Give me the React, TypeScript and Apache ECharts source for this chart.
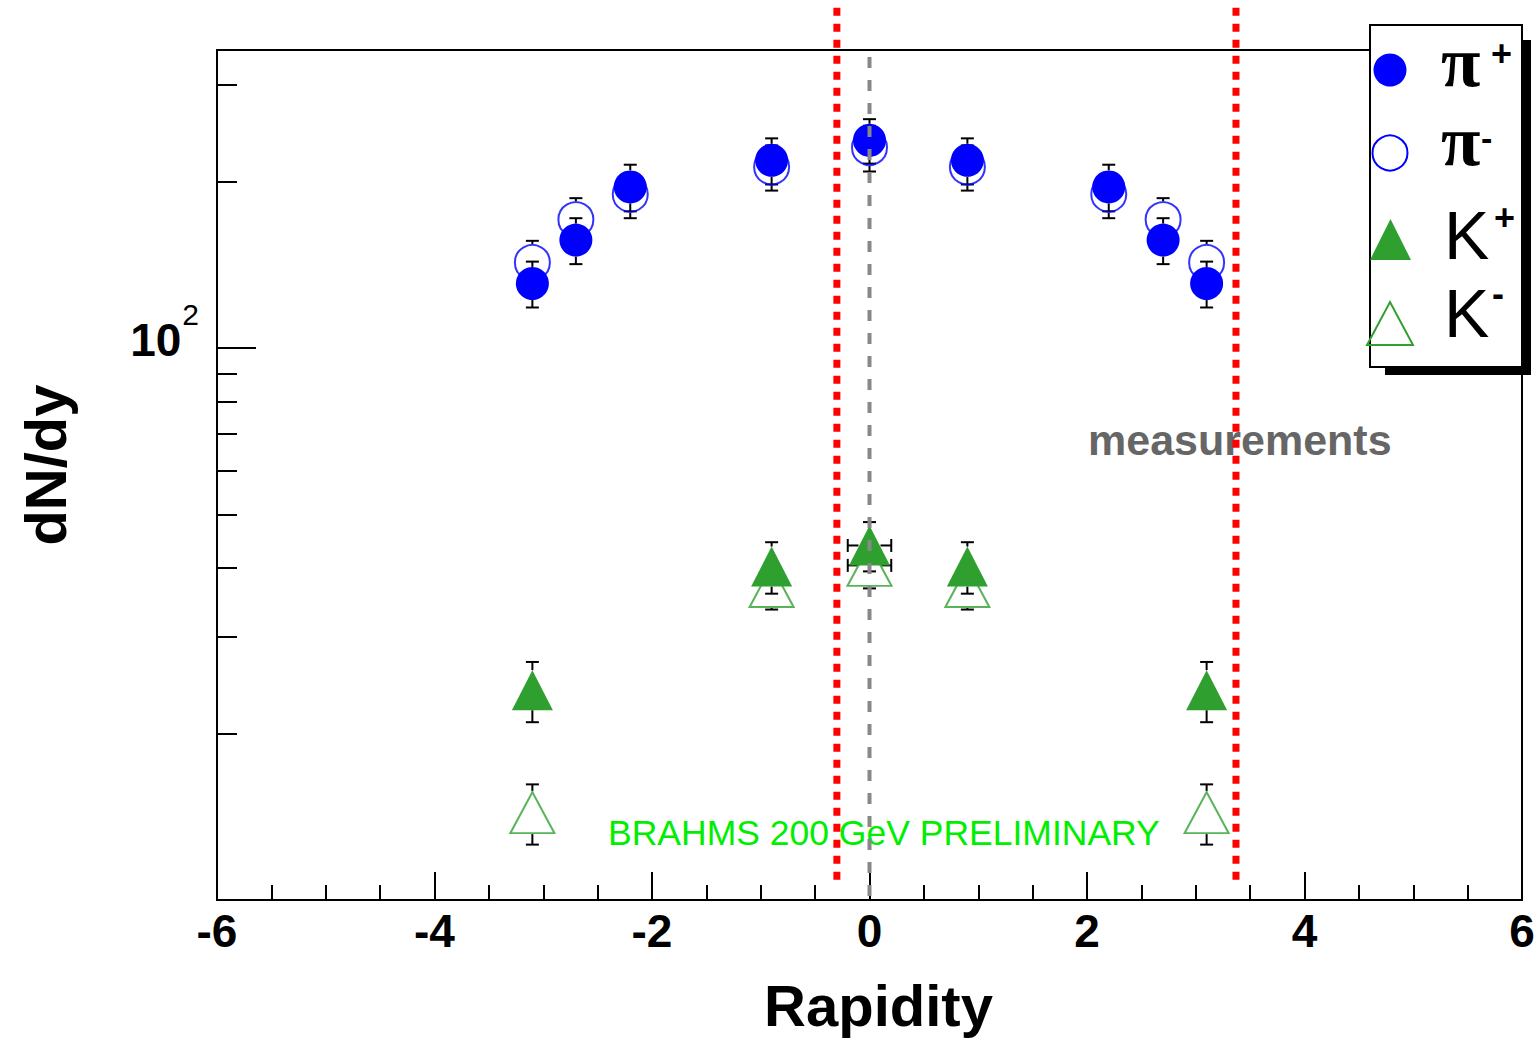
import React, { useEffect, useRef } from "react";
import * as echarts from "echarts";

// ---- data ----
const xPi = [-3.1, -2.7, -2.2, -0.9, 0, 0.9, 2.2, 2.7, 3.1];
const piPlus = [131, 157, 196, 219, 238, 219, 196, 157, 131];
const piPlusErr = [12.5, 15, 19, 21, 22, 21, 19, 15, 12.5];
const piMinus = [143, 171, 190, 213, 231, 213, 190, 171, 143];
const piMinusErr = [13.5, 16, 18, 20, 22, 20, 18, 16, 13.5];

const xK = [-3.1, -0.9, 0, 0.9, 3.1];
const kPlus = [24.0, 40.2, 43.9, 40.2, 24.0];
const kPlusErr = [3, 4.3, 4.5, 4.3, 3];
const kMinus = [14.4, 37.0, 40.4, 37.0, 14.4];
const kMinusErr = [1.8, 3.4, 3.7, 3.4, 1.8];
const kXErr = [0, 0, 0.2, 0, 0];

const yMinorTickValues = [20, 30, 40, 50, 60, 70, 80, 90, 200, 300];
const yMajorTickValues = [100];
const yLabelValues = [100];

// acceptance boundaries (red dotted) and mid-rapidity (gray dashed)
const redLinesX = [-0.3, 3.37];
const redLineRange = [10.6, 414];
const grayLineX = [0];
const grayLineRange = [10, 337];

const legendNames = ["π+", "π-", "K+", "K-"];

const BLUE = "#0000ff";
const GREEN = "#2fa02f";
const FONT = "Liberation Sans, Arial, sans-serif";

function errData(xs: number[], ys: number[], es: number[], exs?: number[]) {
  return xs.map((x, i) => [x, ys[i], es[i], exs ? exs[i] : 0]);
}

export default function App() {
  const ref = useRef<HTMLDivElement>(null);
  useEffect(() => {
    if (!ref.current) return;
    const chart = echarts.init(ref.current, undefined, { renderer: "svg" });

    const errRender = (gapY: number, gapX: number) => (params: any, api: any) => {
      const x = api.value(0);
      const y = api.value(1);
      const e = api.value(2);
      const ex = api.value(3);
      const c = api.coord([x, y]);
      const top = api.coord([x, y + e]);
      const bot = api.coord([x, y - e]);
      const st = { stroke: "#000", lineWidth: 2 };
      const cw = 6.5;
      const children: any[] = [
        { type: "line", shape: { x1: top[0] - cw, y1: top[1], x2: top[0] + cw, y2: top[1] }, style: st },
        { type: "line", shape: { x1: bot[0] - cw, y1: bot[1], x2: bot[0] + cw, y2: bot[1] }, style: st },
      ];
      if (c[1] - gapY > top[1]) {
        children.push({ type: "line", shape: { x1: c[0], y1: top[1], x2: c[0], y2: c[1] - gapY }, style: st });
      }
      if (c[1] + gapY < bot[1]) {
        children.push({ type: "line", shape: { x1: c[0], y1: c[1] + gapY, x2: c[0], y2: bot[1] }, style: st });
      }
      if (ex > 0) {
        const l = api.coord([x - ex, y]);
        const r = api.coord([x + ex, y]);
        children.push(
          { type: "line", shape: { x1: l[0], y1: l[1], x2: c[0] - gapX, y2: c[1] }, style: st },
          { type: "line", shape: { x1: c[0] + gapX, y1: c[1], x2: r[0], y2: r[1] }, style: st },
          { type: "line", shape: { x1: l[0], y1: l[1] - cw, x2: l[0], y2: l[1] + cw }, style: st },
          { type: "line", shape: { x1: r[0], y1: r[1] - cw, x2: r[0], y2: r[1] + cw }, style: st }
        );
      }
      return { type: "group", children };
    };

    const vLineRender = (color: string, width: number, dash: number[]) => (params: any, api: any) => {
      const x = api.value(0);
      const a = api.coord([x, api.value(1)]);
      const b = api.coord([x, api.value(2)]);
      return {
        type: "line",
        shape: { x1: a[0], y1: a[1], x2: b[0], y2: b[1] },
        style: { stroke: color, lineWidth: width, lineDash: dash, lineCap: "butt" },
      };
    };

    const legendGraphics: any[] = [
      { type: "rect", z: 20, shape: { x: 1385, y: 40, width: 146, height: 335 }, style: { fill: "#000" } },
      { type: "rect", z: 21, shape: { x: 1370, y: 25, width: 152, height: 342 }, style: { fill: "#fff", stroke: "#000", lineWidth: 2 } },
      { type: "circle", z: 22, shape: { cx: 1390, cy: 70, r: 16.5 }, style: { fill: BLUE } },
      { type: "circle", z: 22, shape: { cx: 1390, cy: 153, r: 17.5 }, style: { fill: "none", stroke: BLUE, lineWidth: 2 } },
      { type: "polygon", z: 22, shape: { points: [[1370, 260], [1411, 260], [1390.5, 219]] }, style: { fill: GREEN } },
      { type: "polygon", z: 22, shape: { points: [[1367, 345], [1413, 345], [1390, 302]] }, style: { fill: "none", stroke: GREEN, lineWidth: 2 } },
    ];
    const legText = (text: string, x: number, y: number, size: number, weight: string, family: string) => ({
      type: "text",
      z: 22,
      x,
      y,
      style: { text, fontSize: size, fontWeight: weight, fontFamily: family, fill: "#000", verticalAlign: "middle", align: "left" },
    });
    const serif = "Liberation Serif, DejaVu Serif, serif";
    const names = legendNames.map((n) => ({ base: n.slice(0, 1), sup: n.slice(1) }));
    legendGraphics.push(
      legText(names[0].base, 1441, 62, 72, "bold", serif),
      legText(names[0].sup, 1491, 53, 36, "bold", FONT),
      legText(names[1].base, 1441, 141, 72, "bold", serif),
      legText(names[1].sup, 1481, 138, 34, "bold", FONT),
      legText(names[2].base, 1444, 235, 68, "normal", FONT),
      legText(names[2].sup, 1494, 217, 36, "bold", FONT),
      legText(names[3].base, 1444, 313, 68, "normal", FONT),
      legText(names[3].sup, 1492, 293, 36, "bold", FONT)
    );

    const option: any = {
      animation: false,
      backgroundColor: "#fff",
      grid: { left: 217, top: 50, width: 1305, height: 850, show: true, borderColor: "#000", borderWidth: 2, backgroundColor: "transparent" },
      xAxis: {
        type: "value",
        min: -6,
        max: 6,
        interval: 2,
        axisLine: { show: true, onZero: false, lineStyle: { color: "#000", width: 2 } },
        axisTick: { show: true, inside: true, length: 28, lineStyle: { color: "#000", width: 2 } },
        minorTick: { show: true, splitNumber: 4, length: 15, lineStyle: { color: "#000", width: 2 } },
        splitLine: { show: false },
        axisLabel: { fontSize: 46, fontWeight: "bold", fontFamily: FONT, color: "#000", margin: 8 },
        name: "Rapidity",
        nameLocation: "middle",
        nameGap: 76,
        nameTextStyle: { fontSize: 58, fontWeight: "bold", fontFamily: FONT, color: "#000", padding: [0, 0, 0, 18] },
      },
      yAxis: [
        {
          type: "log",
          logBase: 10,
          min: 10,
          max: 347,
          position: "left",
          axisLine: { show: true, onZero: false, lineStyle: { color: "#000", width: 2 } },
          axisTick: { show: true, inside: true, length: 20, lineStyle: { color: "#000", width: 2 }, customValues: yMinorTickValues },
          minorTick: { show: false },
          splitLine: { show: false },
          axisLabel: {
            show: true,
            customValues: yLabelValues,
            margin: 18,
            padding: [0, 0, 17, 0],
            formatter: (v: number) => `{a|10}{b|${Math.round(Math.log10(v))}}`,
            rich: {
              a: { fontSize: 46, fontWeight: "bold", fontFamily: FONT, color: "#000", lineHeight: 46 },
              b: { fontSize: 30, fontFamily: FONT, color: "#000", lineHeight: 30, padding: [0, 0, 50, 1] },
            },
          },
          name: "dN/dy",
          nameLocation: "middle",
          nameGap: 143,
          nameTextStyle: { fontSize: 58, fontWeight: "bold", fontFamily: FONT, color: "#000", padding: [0, 0, 0, 20] },
        },
        {
          type: "log",
          logBase: 10,
          min: 10,
          max: 347,
          position: "left",
          offset: 0,
          axisLine: { show: false, onZero: false },
          axisTick: { show: true, inside: true, length: 39, lineStyle: { color: "#000", width: 2 }, customValues: yMajorTickValues },
          minorTick: { show: false },
          splitLine: { show: false },
          axisLabel: { show: false },
        },
      ],
      series: [
        { type: "custom", name: "errPiMinus", renderItem: errRender(18.5, 18.5), data: errData(xPi, piMinus, piMinusErr), encode: { x: 0, y: 1 }, z: 1, clip: false },
        { type: "custom", name: "errPiPlus", renderItem: errRender(16.5, 16.5), data: errData(xPi, piPlus, piPlusErr), encode: { x: 0, y: 1 }, z: 1, clip: false },
        { type: "custom", name: "errKMinus", renderItem: errRender(21.5, 12), data: errData(xK, kMinus, kMinusErr, kXErr), encode: { x: 0, y: 1 }, z: 1, clip: false },
        { type: "custom", name: "errKPlus", renderItem: errRender(20, 11), data: errData(xK, kPlus, kPlusErr, kXErr), encode: { x: 0, y: 1 }, z: 1, clip: false },
        {
          type: "scatter", name: legendNames[1], data: xPi.map((x, i) => [x, piMinus[i]]), symbol: "circle", symbolSize: 35,
          itemStyle: { color: "rgba(0,0,0,0)", borderColor: BLUE, borderWidth: 2 }, z: 2,
        },
        {
          type: "scatter", name: legendNames[3], data: xK.map((x, i) => [x, kMinus[i]]), symbol: "triangle", symbolSize: [44, 41],
          itemStyle: { color: "rgba(0,0,0,0)", borderColor: GREEN, borderWidth: 2 }, z: 2,
        },
        {
          type: "scatter", name: legendNames[0], data: xPi.map((x, i) => [x, piPlus[i]]), symbol: "circle", symbolSize: 33,
          itemStyle: { color: BLUE, opacity: 1 }, z: 3,
        },
        {
          type: "scatter", name: legendNames[2], data: xK.map((x, i) => [x, kPlus[i]]), symbol: "triangle", symbolSize: [41, 40],
          itemStyle: { color: GREEN, opacity: 1 }, z: 3,
        },
        {
          type: "custom", name: "midRapidity", renderItem: vLineRender("#888888", 4, [11, 12]),
          data: grayLineX.map((x) => [x, grayLineRange[1], grayLineRange[0]]), encode: { x: 0, y: 1 }, z: 6, clip: false,
        },
        {
          type: "custom", name: "acceptance", renderItem: vLineRender("#ff0000", 7, [8, 8]),
          data: redLinesX.map((x) => [x, redLineRange[1], redLineRange[0]]), encode: { x: 0, y: 1 }, z: 7, clip: false,
        },
      ],
      graphic: [
        {
          type: "text", z: 4, x: 1088, y: 440,
          style: { text: "measurements", fontSize: 43, fontWeight: "bold", fontFamily: FONT, fill: "#666666", verticalAlign: "middle", align: "left" },
        },
        {
          type: "text", z: 4, x: 608, y: 833,
          style: { text: "BRAHMS 200 GeV PRELIMINARY", fontSize: 35.5, fontWeight: "normal", fontFamily: FONT, fill: "#00ee00", verticalAlign: "middle", align: "left" },
        },
        ...legendGraphics,
      ],
    };
    chart.setOption(option);
    return () => chart.dispose();
  }, []);
  return <div ref={ref} style={{ position: "absolute", left: 0, top: 0, width: 1539, height: 1040 }} />;
}
